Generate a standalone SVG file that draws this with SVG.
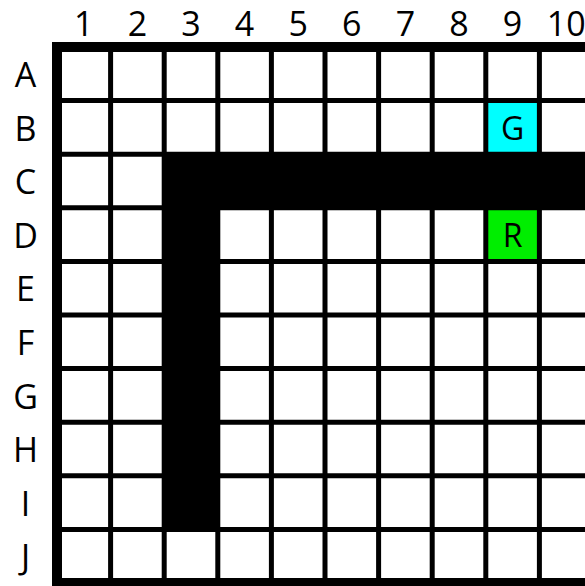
<svg xmlns="http://www.w3.org/2000/svg" width="585" height="586" viewBox="0 0 585 586">
  <style>
    .lbl { font-family: "Open Sans", "Noto Sans", sans-serif; font-size: 34px; fill: #000; text-anchor: middle; }
    .cell { font-family: "Open Sans", "Noto Sans", sans-serif; font-size: 32px; fill: #000; text-anchor: middle; }
    .grid line { stroke: #000; stroke-width: 5; }
  </style>
  <rect x="0" y="0" width="585" height="586" fill="#fff"/>
  <g id="labels-cols">
    <text class="lbl" x="83.8" y="36">1</text>
    <text class="lbl" x="137.4" y="36">2</text>
    <text class="lbl" x="191" y="36">3</text>
    <text class="lbl" x="244.6" y="36">4</text>
    <text class="lbl" x="298.2" y="36">5</text>
    <text class="lbl" x="351.8" y="36">6</text>
    <text class="lbl" x="405.4" y="36">7</text>
    <text class="lbl" x="459" y="36">8</text>
    <text class="lbl" x="512.6" y="36">9</text>
    <text class="lbl" x="566.2" y="36">10</text>
  </g>
  <g id="labels-rows">
    <text class="lbl" x="25.5" y="87">A</text>
    <text class="lbl" x="25.5" y="140.6">B</text>
    <text class="lbl" x="25.5" y="194.2">C</text>
    <text class="lbl" x="25.5" y="247.8">D</text>
    <text class="lbl" x="25.5" y="301.4">E</text>
    <text class="lbl" x="25.5" y="355">F</text>
    <text class="lbl" x="25.5" y="408.6">G</text>
    <text class="lbl" x="25.5" y="462.2">H</text>
    <text class="lbl" x="25.5" y="515.8">I</text>
    <text class="lbl" x="25.5" y="569.4">J</text>
  </g>
  <g id="goal">
    <rect x="485.8" y="100.6" width="53.6" height="53.6" fill="#00ffff"/>
    <text class="cell" x="512.6" y="139.8">G</text>
  </g>
  <g id="robot">
    <rect x="485.8" y="207.8" width="53.6" height="53.6" fill="#00ee00"/>
    <text class="cell" x="512.6" y="247">R</text>
  </g>
  <g id="walls">
    <rect x="164.2" y="154.2" width="440" height="53.6" fill="#000"/>
    <rect x="164.2" y="154.2" width="53.6" height="375.2" fill="#000"/>
  </g>
  <g class="grid" id="grid">
    <line x1="110.6" y1="47" x2="110.6" y2="583"/>
    <line x1="164.2" y1="47" x2="164.2" y2="583"/>
    <line x1="217.8" y1="47" x2="217.8" y2="583"/>
    <line x1="271.4" y1="47" x2="271.4" y2="583"/>
    <line x1="325" y1="47" x2="325" y2="583"/>
    <line x1="378.6" y1="47" x2="378.6" y2="583"/>
    <line x1="432.2" y1="47" x2="432.2" y2="583"/>
    <line x1="485.8" y1="47" x2="485.8" y2="583"/>
    <line x1="539.4" y1="47" x2="539.4" y2="583"/>
    <line x1="57" y1="100.6" x2="593" y2="100.6"/>
    <line x1="57" y1="154.2" x2="593" y2="154.2"/>
    <line x1="57" y1="207.8" x2="593" y2="207.8"/>
    <line x1="57" y1="261.4" x2="593" y2="261.4"/>
    <line x1="57" y1="315" x2="593" y2="315"/>
    <line x1="57" y1="368.6" x2="593" y2="368.6"/>
    <line x1="57" y1="422.2" x2="593" y2="422.2"/>
    <line x1="57" y1="475.8" x2="593" y2="475.8"/>
    <line x1="57" y1="529.4" x2="593" y2="529.4"/>
    <rect x="57" y="47" width="536" height="536" fill="none" stroke="#000" stroke-width="10"/>
  </g>
</svg>
